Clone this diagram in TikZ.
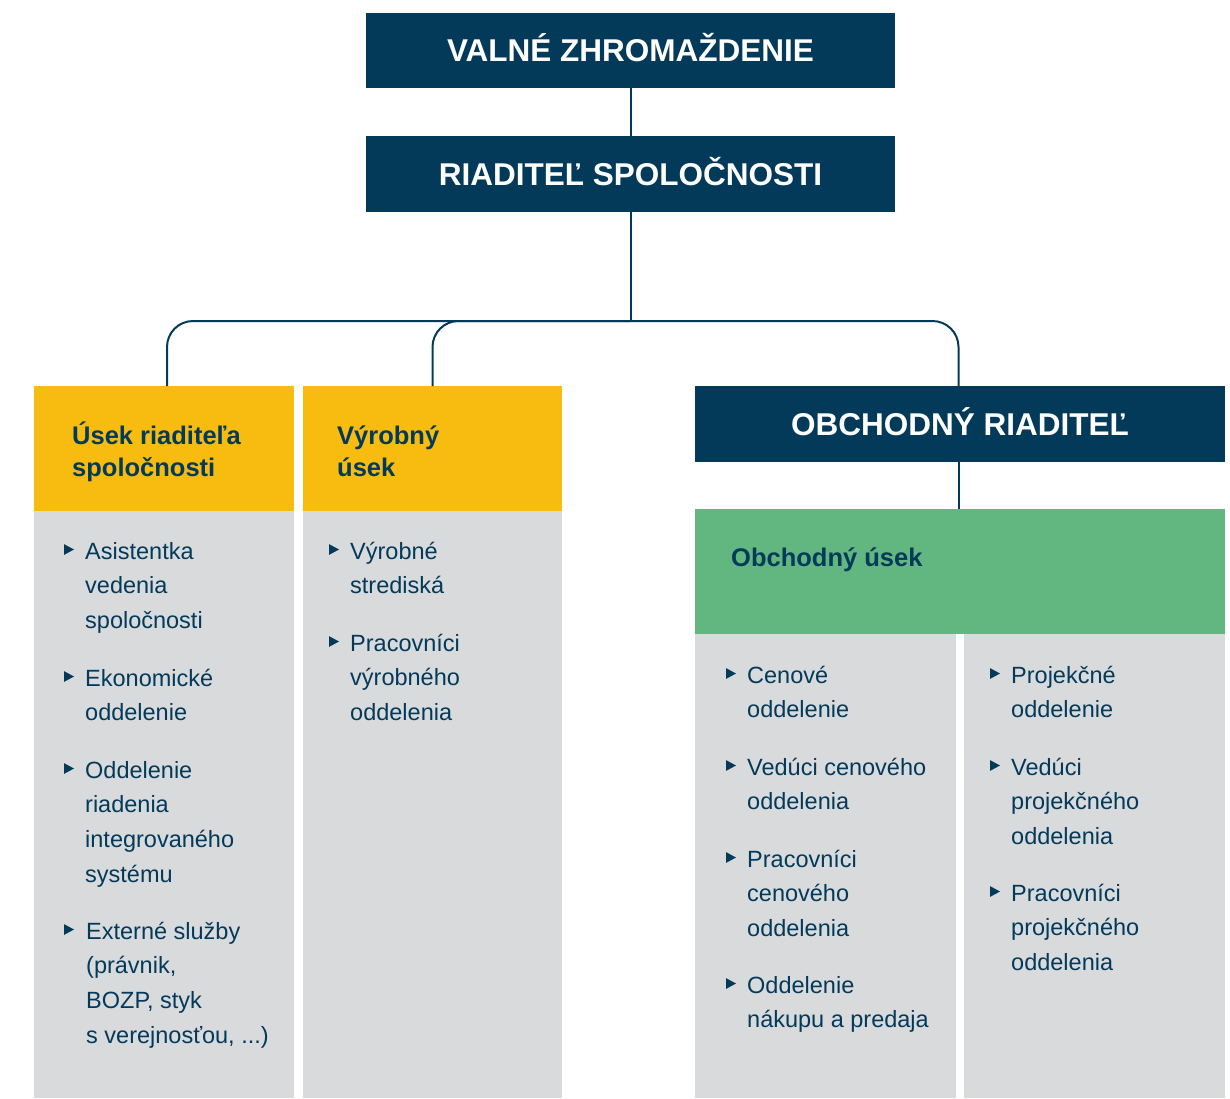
\documentclass[tikz,border=0pt]{standalone}
\usepackage{fontspec}
\setmainfont{Liberation Sans}
\definecolor{navy}{RGB}{3,58,90}
\definecolor{yel}{RGB}{248,187,16}
\definecolor{grn}{RGB}{98,182,127}
\definecolor{gry}{RGB}{217,218,220}
\tikzset{
  area/.style={anchor=north west, inner sep=0pt, outer sep=0pt, draw=none},
  navybox/.style={fill=navy, text=white, inner sep=0pt, outer sep=0pt,
    minimum height=75.5pt, text height=22.5pt, text depth=0pt,
    font=\fontsize{31.5}{36}\selectfont\bfseries},
  head/.style={anchor=north west, inner sep=0pt, align=left, text=navy, yshift=22.4pt,
    font=\fontsize{25.5}{32}\selectfont\bfseries},
  itemtxt/.style={anchor=north west, inner sep=0pt, align=left, text=navy, yshift=24.22pt,
    font=\fontsize{23.5}{34.6}\selectfont},
  conn/.style={draw=navy, line width=2pt},
  tri/.pic={\fill[navy] (0,-5.4) -- (10,0) -- (0,5.4) -- cycle;}
}
\begin{document}
\begin{tikzpicture}[x=1pt,y=-1pt]
\useasboundingbox (0,0) rectangle (1230,1098);
% top boxes
\node[navybox, minimum width=529pt] (vz) at (630.5,50.3) {VALNÉ ZHROMAŽDENIE};
\node[navybox, minimum width=529pt] (rs) at (630.5,174) {RIADITEĽ SPOLOČNOSTI};
\node[navybox, minimum width=530pt] (or) at (960,424) {OBCHODNÝ RIADITEĽ};
% columns
\node[area, fill=yel, minimum width=260pt, minimum height=125pt] (y1) at (34,386) {};
\node[area, fill=yel, minimum width=259pt, minimum height=125pt] (y2) at (303,386) {};
\node[area, fill=gry, minimum width=260pt, minimum height=587pt] (g1) at (34,511) {};
\node[area, fill=gry, minimum width=259pt, minimum height=587pt] (g2) at (303,511) {};
\node[area, fill=grn, minimum width=530pt, minimum height=125pt] (ou) at (695,509) {};
\node[area, fill=gry, minimum width=261pt, minimum height=464pt] (g3) at (695,634) {};
\node[area, fill=gry, minimum width=261pt, minimum height=464pt] (g4) at (964,634) {};
% headings
\node[head] (h1) at (72,444) {\strut Úsek riaditeľa\\spoločnosti};
\node[head] (h2) at (337,444) {\strut Výrobný\\úsek};
\node[head] (h3) at (731,566.5) {\strut Obchodný úsek};
% connectors
\coordinate (j) at (630.5,321);
\draw[conn] (vz.south) -- (rs.north);
\draw[conn] (rs.south) -- (j);
\draw[conn, rounded corners=26pt] ([xshift=3pt]y1.north) |- (j) -| ([xshift=-1.5pt]or.north);
\draw[conn, rounded corners=26pt] (y2.north) |- (j);
\draw[conn] ([xshift=-1.5pt]or.south) -- ([xshift=-1.5pt]ou.north);
% column 1
\pic at (64,549.5) {tri};
\node[itemtxt] (a1) at (85,559) {\strut Asistentka\\vedenia\\spoločnosti};
\pic at (64,676.5) {tri};
\node[itemtxt] (a2) at (85,686) {\strut Ekonomické\\oddelenie};
\pic at (64,768.5) {tri};
\node[itemtxt] (a3) at (85,778) {\strut Oddelenie\\riadenia\\integrovaného\\systému};
\pic at (64,929.5) {tri};
\node[itemtxt] (a4) at (86,939) {\strut Externé služby\\(právnik,\\BOZP, styk\\s verejnosťou, ...)};
% column 2
\pic at (329,549.5) {tri};
\node[itemtxt] (b1) at (350,559) {\strut Výrobné\\strediská};
\pic at (329,641.5) {tri};
\node[itemtxt] (b2) at (350,651) {\strut Pracovníci\\výrobného\\oddelenia};
% column 3
\pic at (726,673.5) {tri};
\node[itemtxt] (c1) at (747,683) {\strut Cenové\\oddelenie};
\pic at (726,765.5) {tri};
\node[itemtxt] (c2) at (747,775) {\strut Vedúci cenového\\oddelenia};
\pic at (726,857.5) {tri};
\node[itemtxt] (c3) at (747,867) {\strut Pracovníci\\cenového\\oddelenia};
\pic at (726,983.5) {tri};
\node[itemtxt] (c4) at (747,993) {\strut Oddelenie\\nákupu a predaja};
% column 4
\pic at (990,673.5) {tri};
\node[itemtxt] (d1) at (1011,683) {\strut Projekčné\\oddelenie};
\pic at (990,765.5) {tri};
\node[itemtxt] (d2) at (1011,775) {\strut Vedúci\\projekčného\\oddelenia};
\pic at (990,891.5) {tri};
\node[itemtxt] (d3) at (1011,901) {\strut Pracovníci\\projekčného\\oddelenia};
\end{tikzpicture}
\end{document}
